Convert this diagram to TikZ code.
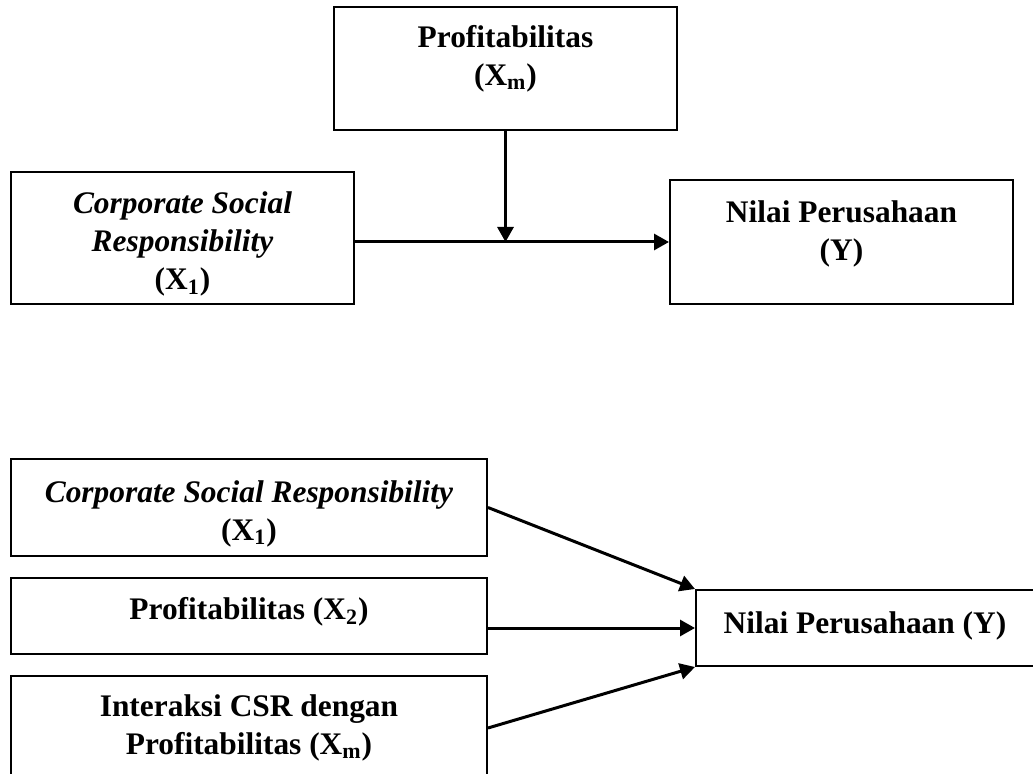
\documentclass[tikz,border=0pt]{standalone}
\usepackage{fontspec}
\setmainfont{Liberation Serif}
\usetikzlibrary{arrows.meta}
\tikzset{
  varbox/.style={draw, line width=1pt, inner sep=0pt},
  boxtext/.style={align=center, inner sep=0pt,
    font=\bfseries\fontsize{15.7}{19}\selectfont},
  link/.style={line width=1.5pt, -{Triangle[length=7.5pt,width=8pt]}}
}

\begin{document}
\begin{tikzpicture}[x=0.5pt,y=-0.5pt]
        \useasboundingbox (0,0) rectangle (1033,774);

        % Moderation model
        \node[varbox, minimum width=171.5pt, minimum height=61.5pt] (xm) at (505.5,68.5) {};
        \node[boxtext] (xm-txt) at ([yshift=5pt]xm.center) {Profitabilitas\\(X\textsubscript{m})};
        \node[varbox, minimum width=171.5pt, minimum height=66pt] (xa) at (182.5,238) {};
        \node[boxtext] (xa-txt) at ([yshift=-3pt]xa.center)
          {\textit{Corporate Social}\\\textit{Responsibility}\\(X\textsubscript{1})};
        \node[varbox, minimum width=171.5pt, minimum height=62pt] (ya) at (841.5,242) {};
        \node[boxtext] (ya-txt) at ([yshift=4pt]ya.center) {Nilai Perusahaan\\(Y)};

        \draw[link] (xa.east |- ya.west) -- (ya.west);
        \draw[link] (xm.south) -- (xm.south |- ya.west);

        % Regression model
        \node[varbox, minimum width=238pt, minimum height=48.5pt] (csr) at (249,507.5) {};
        \node[boxtext] (csr-txt) at ([yshift=-3pt]csr.center)
          {\textit{Corporate Social Responsibility}\\(X\textsubscript{1})};
        \node[varbox, minimum width=238pt, minimum height=38pt] (prof) at (249,616) {};
        \node[boxtext] (prof-txt) at ([yshift=2pt]prof.center) {Profitabilitas (X\textsubscript{2})};
        \node[varbox, minimum width=238pt, minimum height=52pt] (inter) at (249,728) {};
        \node[boxtext] (inter-txt) at (inter.center) {Interaksi CSR dengan\\Profitabilitas (X\textsubscript{m})};
        \node[varbox, minimum width=171pt, minimum height=38pt] (yb) at (867,628) {};
        \node[boxtext] (yb-txt) at ([yshift=1pt,xshift=-1pt]yb.center) {Nilai Perusahaan (Y)};

        \draw[link] (csr.east) -- (yb.north west);
        \draw[link] (prof.east |- yb.west) -- (yb.west);
        \draw[link] (inter.east) -- (yb.south west);

\end{tikzpicture}
\end{document}
